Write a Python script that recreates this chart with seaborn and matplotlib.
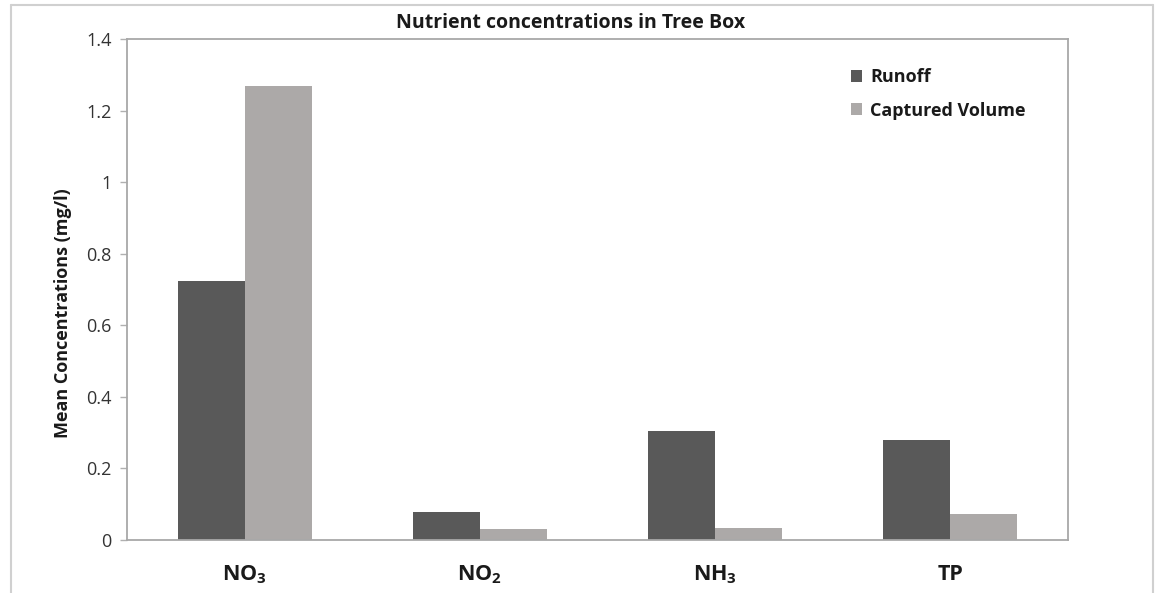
import matplotlib
matplotlib.use("Agg")
import matplotlib.pyplot as plt
import seaborn as sns
import pandas as pd
from matplotlib.lines import Line2D

categories = ["NO$_3$", "NO$_2$", "NH$_3$", "TP"]
runoff = [0.723, 0.078, 0.304, 0.279]
captured = [1.268, 0.031, 0.034, 0.073]
series = ["Runoff", "Captured Volume"]
colors = ["#595959", "#aca9a8"]
yticks = [0, 0.2, 0.4, 0.6, 0.8, 1, 1.2, 1.4]
ytick_labels = ["0", "0.2", "0.4", "0.6", "0.8", "1", "1.2", "1.4"]

df = pd.DataFrame({
    "category": categories * 2,
    "value": runoff + captured,
    "series": [series[0]] * 4 + [series[1]] * 4,
})

sns.set_theme(style="white")
plt.rcParams["font.family"] = ["Open Sans", "DejaVu Sans"]
plt.rcParams["mathtext.fontset"] = "custom"
plt.rcParams["mathtext.rm"] = "Open Sans:bold"
plt.rcParams["mathtext.bf"] = "Open Sans:bold"
plt.rcParams["mathtext.default"] = "bf"

fig = plt.figure(figsize=(11.55, 5.93), dpi=100)
ax = fig.add_axes([0.110, 0.0894, 0.8147, 0.8446])

sns.barplot(data=df, x="category", y="value", hue="series", order=categories,
            hue_order=series, palette=colors, width=0.57, saturation=1,
            edgecolor="none", ax=ax)

ax.set_xlim(-0.5, 3.5)
ax.set_ylim(0, 1.4)
ax.set_yticks(yticks)
ax.set_yticklabels(ytick_labels, fontsize=13, color="#333333")
ax.tick_params(axis="y", which="both", left=True, length=5, width=1, color="#b0b0b0", pad=6)
ax.tick_params(axis="x", bottom=False, pad=11)
for lbl in ax.get_xticklabels():
    lbl.set_fontsize(15.5)
    lbl.set_fontweight("bold")
    lbl.set_color("#1a1a1a")
ax.set_xlabel("")
ax.set_ylabel("Mean Concentrations (mg/l)", fontsize=13, fontweight="bold", color="#1a1a1a")
ax.yaxis.set_label_coords(-0.058, 0.452)
for s in ax.spines.values():
    s.set_visible(True)
    s.set_color("#a8a8a8")
    s.set_linewidth(1.3)

fig.text(0.494, 0.962, "Nutrient concentrations in Tree Box", ha="center", va="center",
         fontsize=14, fontweight="bold", color="#1a1a1a")

leg = ax.legend(loc="upper left", bbox_to_anchor=(0.76, 0.96), frameon=False,
                borderpad=0, handlelength=0.6, handleheight=0.6, handletextpad=0.45,
                labelspacing=0.85, prop={"weight": "bold", "size": 13})
for t in leg.get_texts():
    t.set_color("#1a1a1a")

# outer chart frame
for (x0, y0, x1, y1) in [(0.0095, 0.992, 0.998, 0.992), (0.0095, 0.0, 0.0095, 0.992),
                         (0.998, 0.0, 0.998, 0.992)]:
    fig.add_artist(Line2D([x0, x1], [y0, y1], transform=fig.transFigure, color="#d0d0d0", lw=1.5))

fig.savefig("out.png", dpi=100, facecolor="white")
